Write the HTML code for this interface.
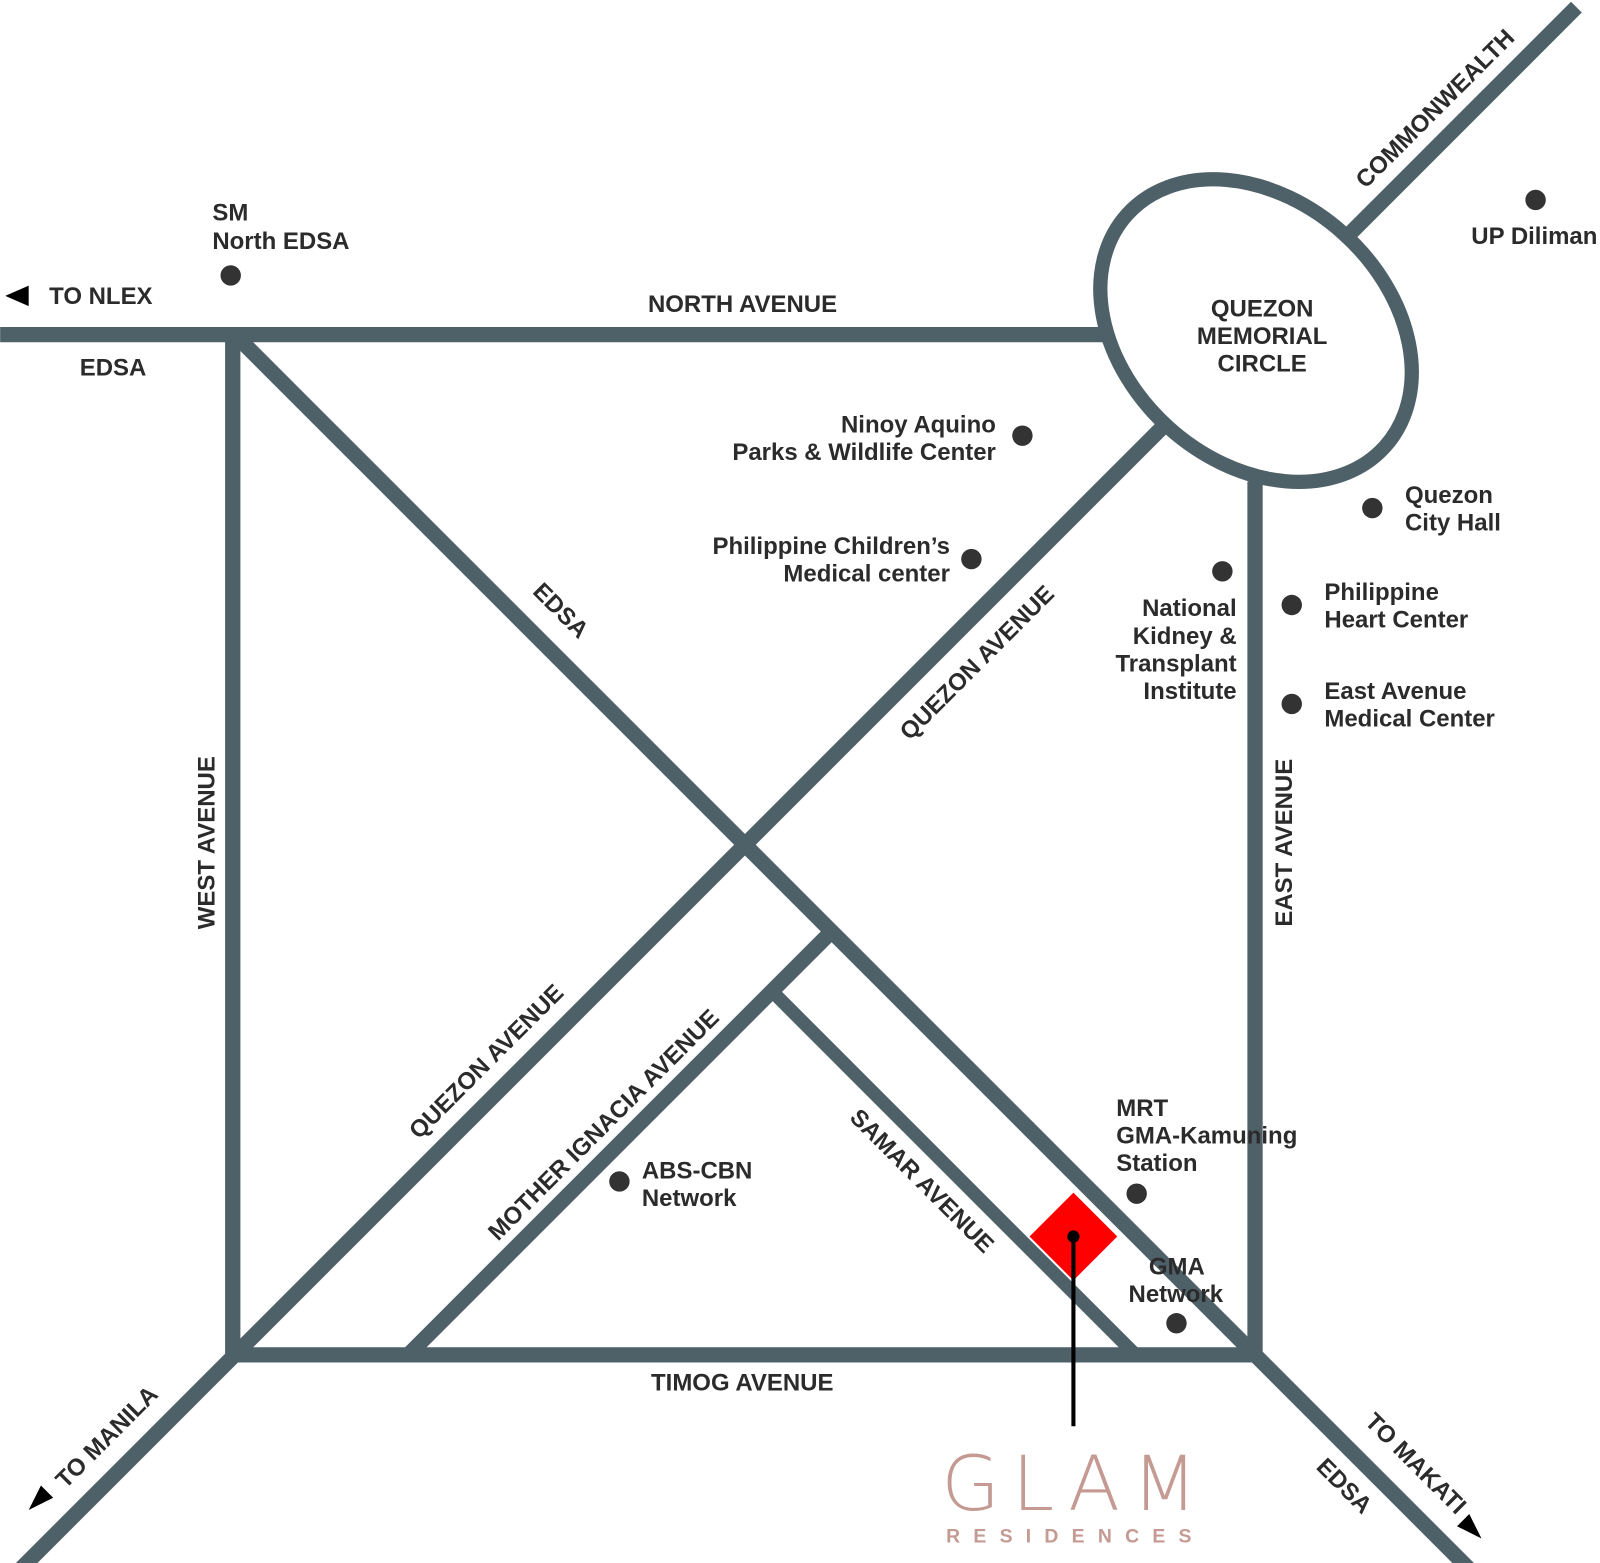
<!DOCTYPE html>
<html><head><meta charset="utf-8"><style>
html,body{margin:0;padding:0;background:#fff;}
svg{display:block;}
text{font-family:"Liberation Sans",Arial,sans-serif;font-weight:bold;fill:#2b2b2b;font-size:23.5px;}
</style></head><body>
<svg width="1600" height="1563" viewBox="0 0 1568 1532" xmlns="http://www.w3.org/2000/svg">
<g stroke="#4f6168" stroke-width="15" fill="none" stroke-linecap="butt">
<line x1="0" y1="328" x2="1085" y2="328"/>
<line x1="228" y1="321" x2="228" y2="1335"/>
<line x1="221" y1="1328" x2="1237" y2="1328"/>
<line x1="1230" y1="472" x2="1230" y2="1335"/>
<line x1="228" y1="326" x2="1440" y2="1538"/>
<line x1="1140" y1="418" x2="14" y2="1544"/>
<line x1="1322" y1="230" x2="1545" y2="7"/>
<line x1="810" y1="918" x2="400" y2="1328"/>
<line x1="760" y1="975" x2="1113" y2="1328" stroke-width="13"/>
<ellipse cx="1231" cy="324" rx="170" ry="128" transform="rotate(42 1231 324)" stroke-width="14" fill="#fff"/>
</g>
<polygon points="1052,1169 1095,1212 1052,1255 1009,1212" fill="#ff0000"/>
<line x1="1052" y1="1212" x2="1052" y2="1398" stroke="#000" stroke-width="4"/>
<circle cx="1052" cy="1212" r="6" fill="#000"/>
<g fill="#333">
<circle cx="226" cy="270" r="10"/><circle cx="1002" cy="427" r="10"/><circle cx="952" cy="548" r="10"/>
<circle cx="1198" cy="560" r="10"/><circle cx="1345" cy="498" r="10"/><circle cx="1266" cy="593" r="10"/>
<circle cx="1266" cy="690" r="10"/><circle cx="1505" cy="196" r="10"/><circle cx="1114" cy="1170" r="10"/>
<circle cx="1153" cy="1297" r="10"/><circle cx="607" cy="1158" r="10"/>
</g>
<polygon points="5,290 28,280 28,300" fill="#000"/>
<text x="48" y="298">TO NLEX</text>
<text x="208" y="216">SM</text><text x="208" y="244">North EDSA</text>
<text x="78" y="368">EDSA</text>
<text x="635" y="306">NORTH AVENUE</text>
<text x="1237" y="310" text-anchor="middle">QUEZON</text>
<text x="1237" y="337" text-anchor="middle">MEMORIAL</text>
<text x="1237" y="364" text-anchor="middle">CIRCLE</text>
<text x="1442" y="239">UP Diliman</text>
<text x="976" y="424" text-anchor="end">Ninoy Aquino</text>
<text x="976" y="451" text-anchor="end">Parks &amp; Wildlife Center</text>
<text x="931" y="543" text-anchor="end">Philippine Children’s</text>
<text x="931" y="570" text-anchor="end">Medical center</text>
<text x="1212" y="604" text-anchor="end">National</text>
<text x="1212" y="631" text-anchor="end">Kidney &amp;</text>
<text x="1212" y="658" text-anchor="end">Transplant</text>
<text x="1212" y="685" text-anchor="end">Institute</text>
<text x="1377" y="493">Quezon</text><text x="1377" y="520">City Hall</text>
<text x="1298" y="588">Philippine</text><text x="1298" y="615">Heart Center</text>
<text x="1298" y="685">East Avenue</text><text x="1298" y="712">Medical Center</text>
<text x="1094" y="1094">MRT</text><text x="1094" y="1121">GMA-Kamuning</text><text x="1094" y="1148">Station</text>
<text x="1126" y="1249">GMA</text><text x="1106" y="1276">Network</text>
<text x="629" y="1155">ABS-CBN</text><text x="629" y="1182">Network</text>
<text x="638" y="1363">TIMOG AVENUE</text>
<text transform="translate(210,826) rotate(-90)" text-anchor="middle">WEST AVENUE</text>
<text transform="translate(1266,826) rotate(-90)" text-anchor="middle">EAST AVENUE</text>
<text transform="translate(1412,112) rotate(-45)" text-anchor="middle">COMMONWEALTH</text>
<text transform="translate(544,604) rotate(45)" text-anchor="middle">EDSA</text>
<text transform="translate(963,655) rotate(-45)" text-anchor="middle">QUEZON AVENUE</text>
<text transform="translate(482,1046) rotate(-45)" text-anchor="middle">QUEZON AVENUE</text>
<text transform="translate(597,1108) rotate(-45)" text-anchor="middle">MOTHER IGNACIA AVENUE</text>
<text transform="translate(898,1163) rotate(45)" text-anchor="middle">SAMAR AVENUE</text>
<text transform="translate(110,1414) rotate(-45)" text-anchor="middle">TO MANILA</text>
<polygon points="28,1480 52,1468 40,1456" fill="#000"/>
<text transform="translate(1382,1440) rotate(45)" text-anchor="middle">TO MAKATI</text>
<polygon points="1452,1508 1440,1484 1428,1496" fill="#000"/>
<text transform="translate(1312,1462) rotate(45)" text-anchor="middle">EDSA</text>
<text x="1054" y="1480" text-anchor="middle" style="font-family:'DejaVu Sans',sans-serif;font-weight:200;font-size:74px;fill:#c49a93;letter-spacing:12px;">GLAM</text>
<text x="1054" y="1512" text-anchor="middle" style="font-weight:bold;font-size:19px;fill:#c49a93;letter-spacing:13px;">RESIDENCES</text>
</svg>
</body></html>
